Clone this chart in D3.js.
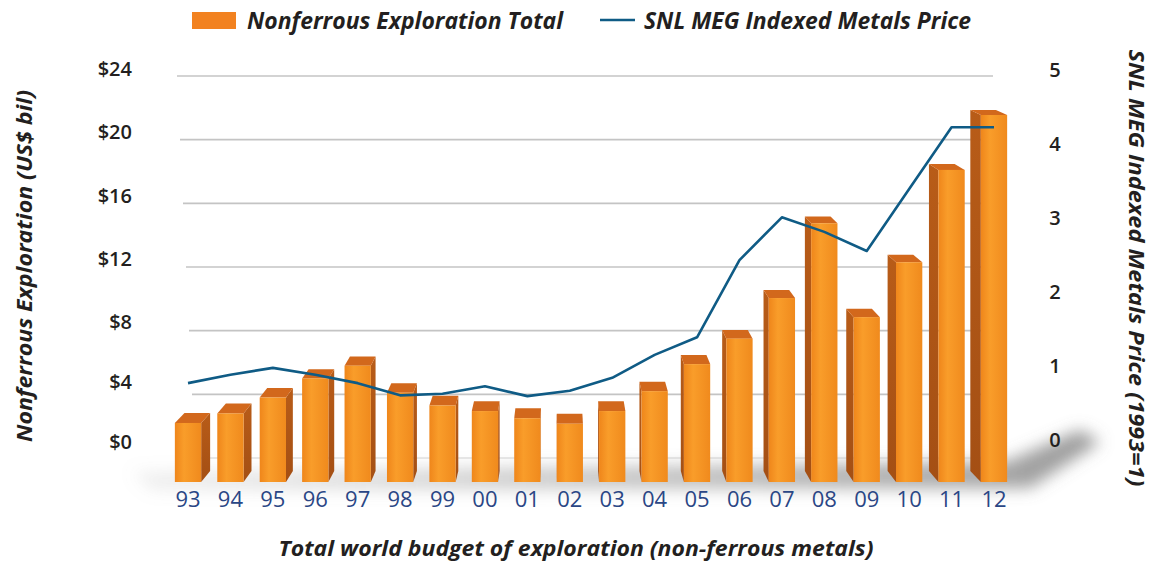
<html>
<head>
<meta charset="utf8">
<title>Nonferrous Exploration</title>
<style>
  body { margin: 0; background: #fff; }
  text { font-family: "Open Sans", "Noto Sans", sans-serif; }
  .tick-lbl { font-size: 20px; font-weight: 600; fill: #231f20; }
  .year { font-size: 22px; fill: #2a4685; }
  .title { font-size: 22px; font-weight: 700; font-style: italic; fill: #231f20; }
  .legend-txt { font-size: 23px; font-weight: 700; font-style: italic; fill: #231f20; }
  .grid line { stroke: #c4c4c4; stroke-width: 1.6; }
</style>
</head>
<body>
<svg width="1154" height="564"></svg>
<script src="https://d3js.org/d3.v7.min.js"></script>
<script>
// data
var years = ["93","94","95","96","97","98","99","00","01","02","03","04","05","06","07","08","09","10","11","12"];
var exploration = [2.2, 2.8, 3.8, 5.0, 5.8, 4.1, 3.3, 2.95, 2.5, 2.15, 2.95, 4.2, 5.9, 7.5, 10.05, 14.75, 8.85, 12.3, 18.1, 21.55];
var metalsPrice = [0.98, 1.09, 1.18, 1.09, 0.98, 0.82, 0.84, 0.94, 0.81, 0.88, 1.05, 1.35, 1.58, 2.59, 3.15, 2.96, 2.71, 3.52, 4.33, 4.33];
var leftTicks = [0, 4, 8, 12, 16, 20, 24];
var rightTicks = [0, 1, 2, 3, 4, 5];

var svg = d3.select("svg");
var defs = svg.append("defs");

var x = d3.scaleBand().domain(years).range([166.8, 1015.2]).paddingInner(0.38).paddingOuter(0.19);
var yLeft = d3.scaleLinear().domain([0, 24]).range([458, 76]);
var yRight = d3.scaleLinear().domain([0, 5]).range([458, 76]);
// tick labels sit a bit off the back wall because of the 3d view
var leftLabelY = d3.scaleLinear().domain([0, 8, 24]).range([442, 322, 69]);
var rightLabelY = d3.scaleLinear().domain([0, 5]).range([440, 70]);
var gridStart = d3.scaleLinear().domain([0, 24]).range([195, 177]);

var bw = x.bandwidth();
var base = yLeft(0) + 24;

// fake perspective: points recede toward a vanishing point
var vpX = 560, vpY = -194;
function back(px, py) {
    return [px + (vpX - px) * 0.025, py + (vpY - py) * 0.0162];
}

// gradients
var gFront = defs.append("linearGradient").attr("id", "front");
gFront.append("stop").attr("offset", "0%").attr("stop-color", "#ef861b");
gFront.append("stop").attr("offset", "35%").attr("stop-color", "#f99d2a");
gFront.append("stop").attr("offset", "100%").attr("stop-color", "#f08a1d");
var gSide = defs.append("linearGradient").attr("id", "side").attr("x1", 0).attr("y1", 0).attr("x2", 0).attr("y2", 1);
gSide.append("stop").attr("offset", "0%").attr("stop-color", "#b85c18");
gSide.append("stop").attr("offset", "100%").attr("stop-color", "#a44f14");
var gShadow = defs.append("linearGradient").attr("id", "shade");
gShadow.append("stop").attr("offset", "0%").attr("stop-color", "#9a9a9a").attr("stop-opacity", 0.15);
gShadow.append("stop").attr("offset", "45%").attr("stop-color", "#8a8a8a").attr("stop-opacity", 0.45);
gShadow.append("stop").attr("offset", "100%").attr("stop-color", "#707070").attr("stop-opacity", 0.7);

var blur = defs.append("filter").attr("id", "blur").attr("x", "-20%").attr("y", "-60%").attr("width", "140%").attr("height", "220%");
blur.append("feGaussianBlur").attr("stdDeviation", 8);

// floor shadow
var r0 = x.range()[0], r1 = x.range()[1];
svg.append("path")
    .attr("d", d3.line()([[r0 - 35, base - 10], [r1 - 10, base - 20], [r1 + 65, base - 52], [r1 + 85, base - 40],
                          [r1 + 15, base + 6], [r0 - 15, base + 8]]))
    .attr("fill", "url(#shade)")
    .attr("filter", "url(#blur)");

// gridlines on the back wall
svg.append("g").attr("class", "grid")
    .selectAll("line")
    .data(leftTicks)
    .enter().append("line")
    .attr("x1", d => gridStart(d))
    .attr("x2", 993)
    .attr("y1", d => yLeft(d))
    .attr("y2", d => yLeft(d))
    .attr("stroke-opacity", d => d === 0 ? 0.5 : 1);

// bars
var bars = svg.append("g").selectAll("g")
    .data(years.map((y, i) => ({year: y, value: exploration[i]})))
    .enter().append("g");

bars.each(function(d) {
    var g = d3.select(this);
    var x0 = x(d.year), x1 = x0 + bw, yt = yLeft(d.value);
    var cx = x0 + bw / 2;
    var ex = cx < vpX ? x1 : x0;
    var side = [[ex, yt], back(ex, yt), back(ex, base), [ex, base]];
    var top = [[x0, yt], [x1, yt], back(x1, yt), back(x0, yt)];
    g.append("path").attr("d", d3.line()(side) + "Z").attr("fill", "url(#side)");
    g.append("path").attr("d", d3.line()(top) + "Z").attr("fill", "#d2681c");
    g.append("rect")
        .attr("x", x0).attr("y", yt)
        .attr("width", bw).attr("height", base - yt)
        .attr("fill", "url(#front)");
});

// price line
var line = d3.line()
    .x((d, i) => x(years[i]) + bw / 2)
    .y(d => yRight(d));
svg.append("path")
    .datum(metalsPrice)
    .attr("d", line)
    .attr("fill", "none")
    .attr("stroke", "#0f5b85")
    .attr("stroke-width", 2.6)
    .attr("stroke-linejoin", "round");

// tick labels
svg.append("g").selectAll("text")
    .data(leftTicks)
    .enter().append("text")
    .attr("class", "tick-lbl")
    .attr("x", 132)
    .attr("y", d => leftLabelY(d))
    .attr("dy", "0.35em")
    .attr("text-anchor", "end")
    .text(d => "$" + d);

svg.append("g").selectAll("text")
    .data(rightTicks)
    .enter().append("text")
    .attr("class", "tick-lbl")
    .attr("x", 1055)
    .attr("y", d => rightLabelY(d))
    .attr("dy", "0.35em")
    .attr("text-anchor", "middle")
    .text(d => d);

svg.append("g").selectAll("text")
    .data(years)
    .enter().append("text")
    .attr("class", "year")
    .attr("x", d => x(d) + bw / 2)
    .attr("y", 507)
    .attr("text-anchor", "middle")
    .text(d => d);

// axis titles
svg.append("text")
    .attr("class", "title")
    .attr("transform", "translate(32,266) rotate(-90)")
    .attr("text-anchor", "middle")
    .attr("textLength", 352)
    .attr("lengthAdjust", "spacingAndGlyphs")
    .text("Nonferrous Exploration (US$ bil)");

svg.append("text")
    .attr("class", "title")
    .attr("transform", "translate(1129,268) rotate(90)")
    .attr("text-anchor", "middle")
    .attr("textLength", 437)
    .attr("lengthAdjust", "spacingAndGlyphs")
    .style("font-size", "21px")
    .text("SNL MEG Indexed Metals Price (1993=1)");

svg.append("text")
    .attr("class", "title")
    .attr("x", 576)
    .attr("y", 556)
    .attr("text-anchor", "middle")
    .attr("textLength", 595)
    .attr("lengthAdjust", "spacingAndGlyphs")
    .text("Total world budget of exploration (non-ferrous metals)");

// legend
var legend = svg.append("g");
legend.append("rect").attr("x", 192).attr("y", 12).attr("width", 44).attr("height", 17).attr("fill", "#f28220");
legend.append("text").attr("class", "legend-txt").attr("x", 247).attr("y", 29)
    .attr("textLength", 316).attr("lengthAdjust", "spacingAndGlyphs")
    .text("Nonferrous Exploration Total");
legend.append("line").attr("x1", 600).attr("x2", 635).attr("y1", 20).attr("y2", 20)
    .attr("stroke", "#0f5b85").attr("stroke-width", 2.6);
legend.append("text").attr("class", "legend-txt").attr("x", 644).attr("y", 29)
    .attr("textLength", 327).attr("lengthAdjust", "spacingAndGlyphs")
    .text("SNL MEG Indexed Metals Price");
</script>
</body>
</html>
